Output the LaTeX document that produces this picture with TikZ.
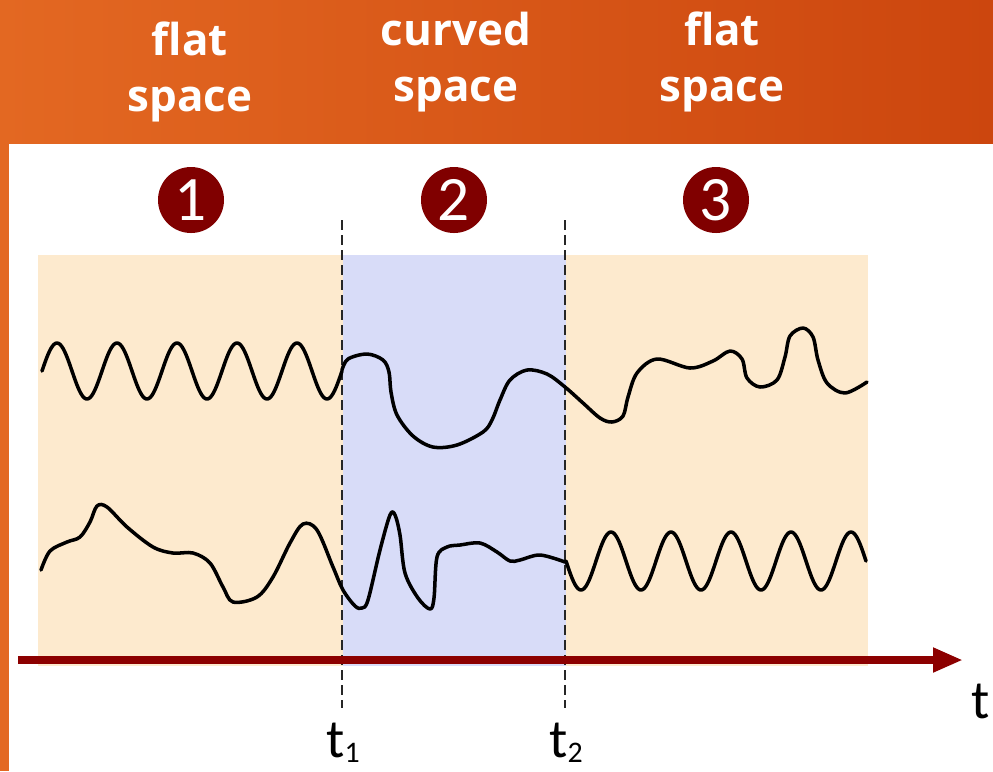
\documentclass[tikz,border=0pt]{standalone}
\usepackage{fontspec}
\setsansfont{Open Sans}
\newfontfamily\calfont{Carlito}
\usetikzlibrary{arrows.meta}
\definecolor{bannerl}{RGB}{227,104,34}
\definecolor{bannerr}{RGB}{204,70,14}
\definecolor{flatc}{RGB}{253,234,206}
\definecolor{curvc}{RGB}{216,220,248}
\definecolor{numc}{RGB}{128,0,0}
\definecolor{axisc}{RGB}{140,0,0}
\newcommand{\tsub}[1]{t\raisebox{-3pt}{\fontsize{17}{17}\selectfont #1}}
\tikzset{
  head/.style={text=white,font=\sffamily\bfseries\fontsize{25}{32}\selectfont,align=center},
  num/.style={circle,fill=numc,minimum size=13.2mm,inner sep=0pt,text=white,font=\calfont\fontsize{36}{36}\selectfont},
  tlab/.style={font=\calfont\fontsize{31}{31}\selectfont,inner sep=0pt},
  wave/.style={line width=2pt,black,line join=round,line cap=round},
  cut/.style={dash pattern=on 2mm off 1mm,line width=1.1pt,black!85},
  axis/.style={-{Triangle[length=6mm,width=4.6mm]},line width=1.6mm,axisc},
}

\begin{document}
\begin{tikzpicture}[x=0.2mm,y=-0.2mm]
  \useasboundingbox (0,0) rectangle (993,771);
  % banner
  \shade[left color=bannerl,right color=bannerr] (0,0) rectangle (993,143);
  \fill[bannerl] (0,143) rectangle (9,771);
  \node[head] (h1) at (190,72){flat\\space};
  \node[head] (h2) at (456,62){curved\\space};
  \node[head] (h3) at (722,62){flat\\space};
  % regions
  \fill[flatc] (38,255) rectangle (343,666);
  \fill[curvc] (343,255) rectangle (566,666);
  \fill[flatc] (566,255) rectangle (868,666);
  \node[num] (n1) at (191,200){1};
  \node[num] (n2) at (454,200){2};
  \node[num] (n3) at (716,200){3};
  % cuts
  \coordinate (c1t) at (342,220); \coordinate (c1b) at (342,708);
  \coordinate (c2t) at (565,220); \coordinate (c2b) at (565,708);
  \draw[cut] (c1t)--(c1b); \draw[cut] (c2t)--(c2b);
  % upper signal
  \draw[wave] plot[domain=42:342,samples=200] (\x,{371-28*sin(6*(\x-42))});
  \draw[wave] plot[smooth,tension=0.55] coordinates {(342,370) (348,359) (367,354) (383,360) (389,372)
    (391,392) (397,415) (413,436) (433,447) (457,445) (483,432) (492,420) (500,400) (510,380) (527,370)
    (547,374) (565,387) (583,403) (600,418) (612,422) (623,416) (628,397) (637,373) (657,359)
    (690,368) (713,361) (730,351) (742,359) (747,378) (760,387) (777,380) (785,357) (790,336)
    (803,328) (813,337) (818,360) (827,383) (845,393) (867,382)};
  % lower signal
  \draw[wave] plot[smooth,tension=0.55] coordinates {(41,570) (50,551) (67,542) (80,537) (90,522)
    (97,506) (107,507) (127,527) (153,547) (173,553) (193,553) (210,563) (223,587) (233,602)
    (257,597) (273,577) (290,543) (303,524) (317,530) (333,567) (343,590) (355,606) (362,608)
    (368,600) (380,550) (390,515) (395,515) (400,535) (405,573) (418,598) (430,609) (434,598)
    (437,557) (447,547) (460,545) (480,543) (497,552) (510,561) (520,560) (540,555) (565,562)};
  \draw[wave] plot[domain=566:866,samples=200] (\x,{561+29*sin(6*(\x-566))});
  % time axis
  \coordinate (a0) at (18,660); \coordinate (a1) at (963,660);
  \draw[axis] (a0)--(a1);
  \node[tlab] (t) at (981,701){t};
  \node[tlab,anchor=base] (t1) at (343,757){\tsub{1}};
  \node[tlab,anchor=base] (t2) at (566,757){\tsub{2}};
\end{tikzpicture}
\end{document}
